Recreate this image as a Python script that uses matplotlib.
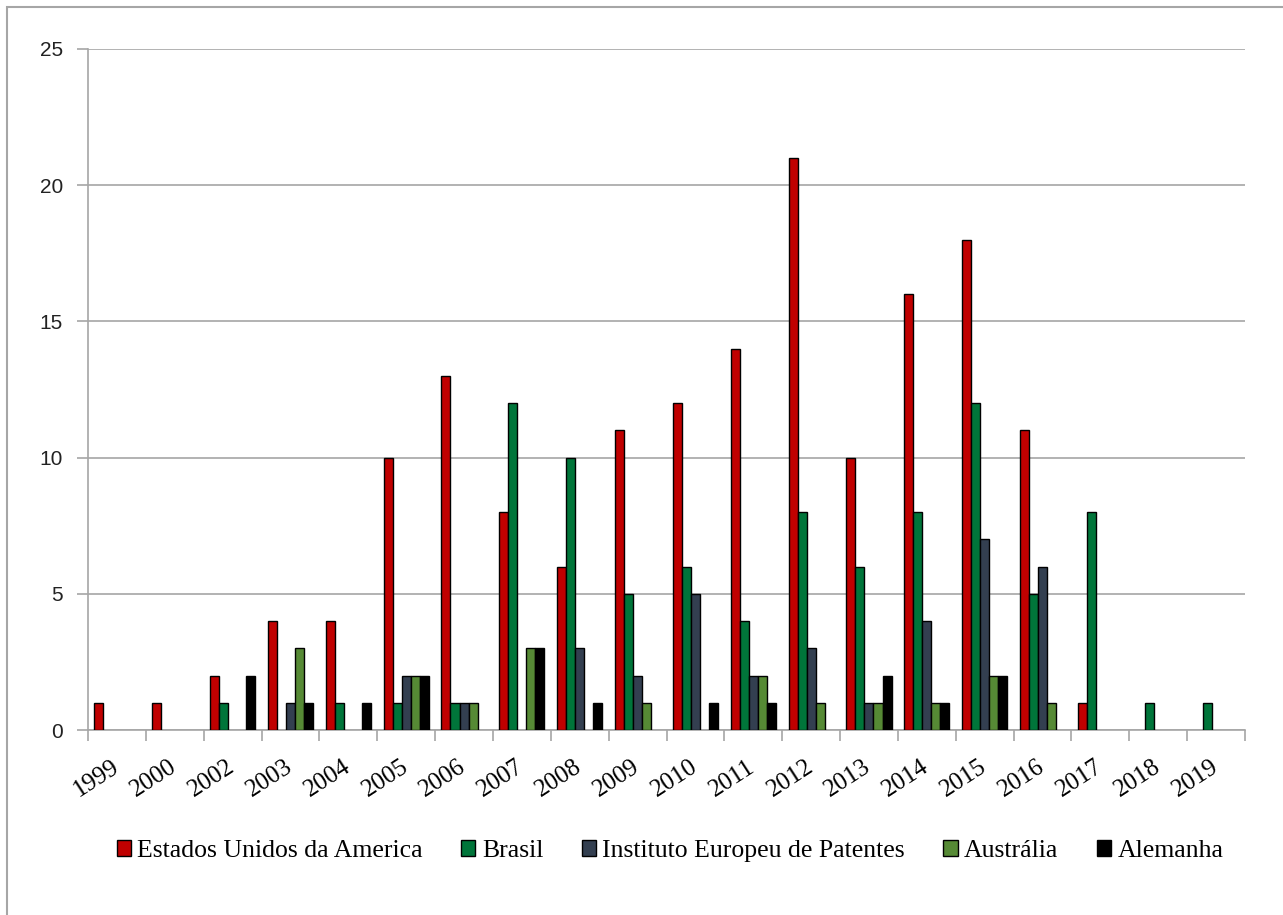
import numpy as np
import matplotlib.pyplot as plt
from matplotlib.patches import Rectangle

years = ['1999', '2000', '2002', '2003', '2004', '2005', '2006', '2007', '2008', '2009',
         '2010', '2011', '2012', '2013', '2014', '2015', '2016', '2017', '2018', '2019']

eua = [1, 1, 2, 4, 4, 10, 13, 8, 6, 11, 12, 14, 21, 10, 16, 18, 11, 1, 0, 0]
brasil = [0, 0, 1, 0, 1, 1, 1, 12, 10, 5, 6, 4, 8, 6, 8, 12, 5, 8, 1, 1]
epo = [0, 0, 0, 1, 0, 2, 1, 0, 3, 2, 5, 2, 3, 1, 4, 7, 6, 0, 0, 0]
australia = [0, 0, 0, 3, 0, 2, 1, 3, 0, 1, 0, 2, 1, 1, 1, 2, 1, 0, 0, 0]
alemanha = [0, 0, 2, 1, 1, 2, 0, 3, 1, 0, 1, 1, 0, 2, 1, 2, 0, 0, 0, 0]

series = [
    ('Estados Unidos da America', eua, '#c00000'),
    ('Brasil', brasil, '#00753a'),
    ('Instituto Europeu de Patentes', epo, '#333f50'),
    ('Austrália', australia, '#568a35'),
    ('Alemanha', alemanha, '#000000'),
]

grid_col = '#a6a6a6'

fig = plt.figure(figsize=(12.83, 9.15), dpi=100)
ax = fig.add_axes([88 / 1283, 185 / 915, (1245 - 88) / 1283, (730 - 49) / 915])

x = np.arange(len(years))
w = 0.156
for k, (name, vals, col) in enumerate(series):
    vals = np.array(vals, dtype=float)
    vals[vals == 0] = np.nan
    ax.bar(x + (k - 2) * w, vals, width=w, color=col, edgecolor='black',
           linewidth=1.0, label=name, zorder=3)

ax.set_xlim(-0.5, len(years) - 0.5)
ax.set_ylim(0, 25)
ax.set_yticks(range(0, 26, 5))
ax.grid(axis='y', color=grid_col, linewidth=1.2, zorder=0)

# category ticks on the group boundaries, labels at the centres
ax.set_xticks(np.arange(len(years) + 1) - 0.5)
ax.set_xticklabels([])
ax.set_xticks(x, minor=True)
ax.set_xticklabels(years, minor=True, rotation=33, ha='right', va='center',
                   rotation_mode='anchor', fontsize=18, family='Liberation Serif')
ax.tick_params(axis='x', which='minor', length=0, pad=25)
ax.tick_params(axis='x', which='major', length=8, color=grid_col, width=1.2)
ax.tick_params(axis='y', length=8, color=grid_col, width=1.2, pad=10)
for lab in ax.get_yticklabels():
    lab.set_fontsize(15)
    lab.set_family('Liberation Sans')
    lab.set_color('#222222')

for s in ['top', 'right']:
    ax.spines[s].set_visible(False)
for s in ['left', 'bottom']:
    ax.spines[s].set_color(grid_col)
    ax.spines[s].set_linewidth(1.2)

fig.legend(loc='center', bbox_to_anchor=(670 / 1283, 1 - 851 / 915), ncol=5,
           frameon=False, prop={'family': 'Liberation Serif', 'size': 18.5},
           handlelength=0.55, handleheight=0.55, handletextpad=0.25,
           columnspacing=1.5)

# outer chart frame
fig.patches.append(Rectangle((7 / 1283, -0.1), 1.2, 1.1 - 7 / 915,
                             transform=fig.transFigure, fill=False,
                             edgecolor=grid_col, linewidth=1.5))

fig.savefig('out.png', dpi=100)
